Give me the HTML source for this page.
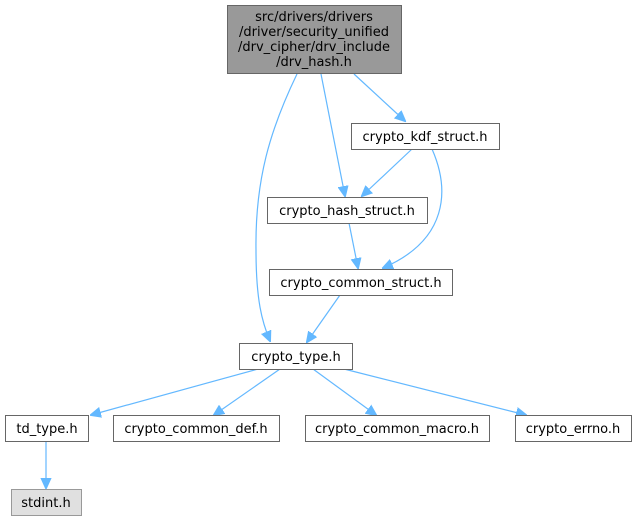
<!DOCTYPE html>
<html><head><style>body{margin:0;background:#fff}svg{display:block}text{font-family:"DejaVu Sans","Liberation Sans",sans-serif;font-size:13px;fill:#000}</style></head>
<body>
<svg width="637" height="520" viewBox="0 0 637 520" xmlns="http://www.w3.org/2000/svg">
<defs><marker id="a" viewBox="0 0 10 10" refX="9" refY="5" markerWidth="11" markerHeight="11" markerUnits="userSpaceOnUse" orient="auto"><path d="M0,0.5 L10,5 L0,9.5 z" fill="#63b8ff" stroke="#63b8ff"/></marker></defs>
<g fill="none" stroke="#63b8ff" stroke-width="1.2" marker-end="url(#a)">
<path d="M354,74 L405,121"/>
<path d="M321,74 L345,196"/>
<path d="M297,74 C270,130 255,180 256,250 C256,300 262,322 270,341"/>
<path d="M412,149 L362,196"/>
<path d="M432,149 C450,190 448,240 383,268"/>
<path d="M349,223 L358,268"/>
<path d="M340,295 L307,342"/>
<path d="M258,369 L91,415"/>
<path d="M280,369 L214,415"/>
<path d="M313,369 L376,415"/>
<path d="M344,369 L526,415"/>
<path d="M46,441 L46,488"/>
</g>
<g stroke="#666" stroke-width="1">
<rect x="227.5" y="5.5" width="174" height="68" fill="#999"/>
<rect x="351.5" y="123.5" width="148" height="26" fill="#fff"/>
<rect x="267.5" y="197.5" width="160" height="26" fill="#fff"/>
<rect x="269.5" y="269.5" width="183" height="26" fill="#fff"/>
<rect x="239.5" y="343.5" width="113" height="26" fill="#fff"/>
<rect x="5.5" y="415.5" width="83" height="26" fill="#fff"/>
<rect x="113.5" y="415.5" width="166" height="26" fill="#fff"/>
<rect x="305.5" y="415.5" width="184" height="26" fill="#fff"/>
<rect x="515.5" y="415.5" width="116" height="26" fill="#fff"/>
<rect x="11.5" y="489.5" width="70" height="26" fill="#e0e0e0" stroke="#999"/>
</g>
<g text-anchor="middle">
<text x="314" y="21">src/drivers/drivers</text>
<text x="314" y="36">/driver/security_unified</text>
<text x="314" y="51">/drv_cipher/drv_include</text>
<text x="314" y="66">/drv_hash.h</text>
<text x="425" y="141">crypto_kdf_struct.h</text>
<text x="347" y="215">crypto_hash_struct.h</text>
<text x="361" y="287">crypto_common_struct.h</text>
<text x="296" y="361">crypto_type.h</text>
<text x="47" y="433">td_type.h</text>
<text x="196" y="433">crypto_common_def.h</text>
<text x="397" y="433">crypto_common_macro.h</text>
<text x="573" y="433">crypto_errno.h</text>
<text x="46" y="507">stdint.h</text>
</g>
</svg>
</body></html>
